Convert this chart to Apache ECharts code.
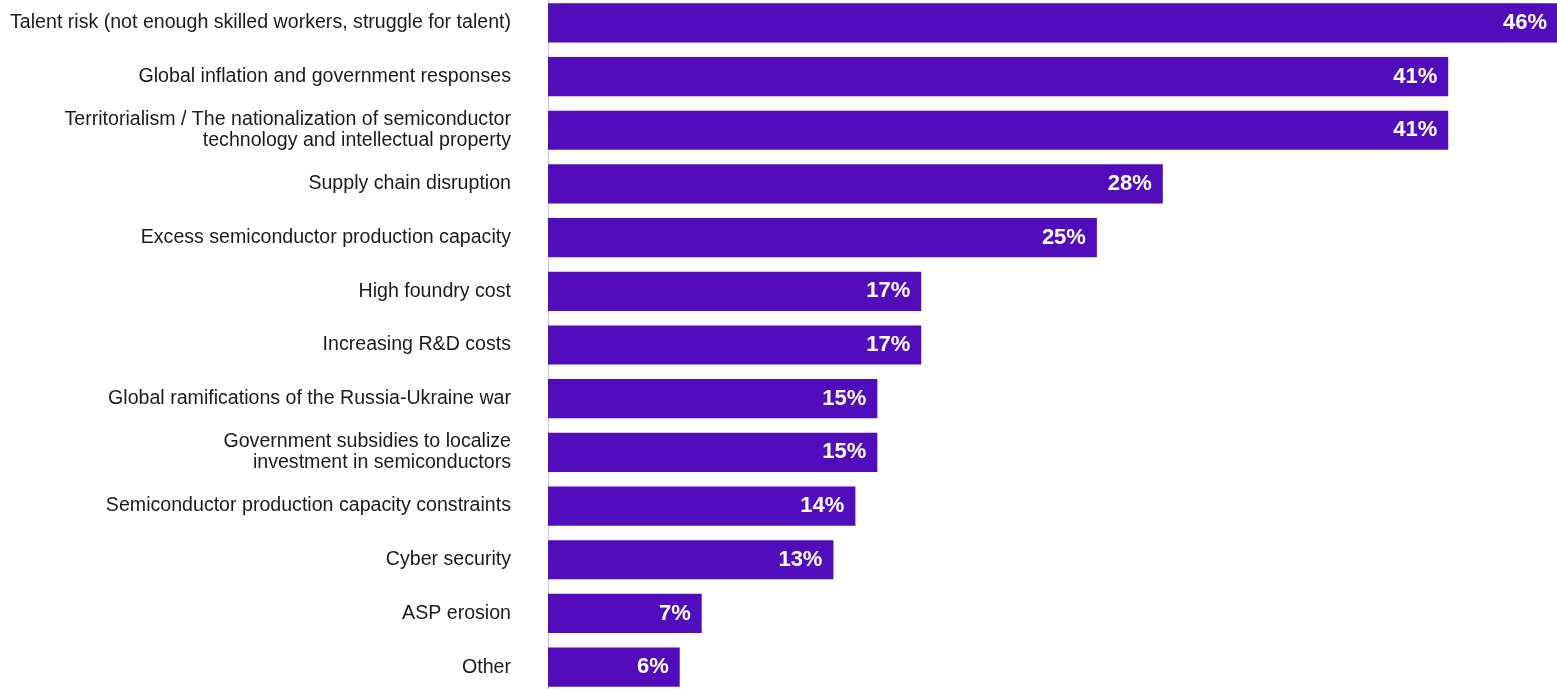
<!DOCTYPE html>
<html>
<head>
<meta charset="utf-8">
<script src="https://cdn.jsdelivr.net/npm/echarts@6/dist/echarts.min.js"></script>
<style>
  html, body { margin: 0; padding: 0; background: #ffffff; }
  #chart { width: 1557px; height: 689px; }
</style>
</head>
<body>
<div id="chart"></div>
<script>
// Risk categories, top to bottom
const categories = [
  'Talent risk (not enough skilled workers, struggle for talent)',
  'Global inflation and government responses',
  'Territorialism / The nationalization of semiconductor\ntechnology and intellectual property',
  'Supply chain disruption',
  'Excess semiconductor production capacity',
  'High foundry cost',
  'Increasing R&D costs',
  'Global ramifications of the Russia-Ukraine war',
  'Government subsidies to localize\ninvestment in semiconductors',
  'Semiconductor production capacity constraints',
  'Cyber security',
  'ASP erosion',
  'Other'
];

// Share of respondents (%)
const values = [46, 41, 41, 28, 25, 17, 17, 15, 15, 14, 13, 7, 6];

const chart = echarts.init(document.getElementById('chart'), null, { renderer: 'canvas' });

chart.setOption({
  animation: false,
  grid: {
    left: 548, top: -4, width: 1010, height: 698,
    containLabel: false,
    outerBoundsMode: 'none'
  },
  xAxis: {
    type: 'value',
    min: 0,
    max: 46,
    show: false
  },
  yAxis: {
    type: 'category',
    inverse: true,
    data: categories,
    axisLine: { show: true, lineStyle: { color: '#cdbdf2', width: 1 } },
    axisTick: { show: false },
    axisLabel: {
      margin: 37,
      color: '#1a1a1a',
      fontFamily: 'Liberation Sans',
      fontSize: 19.6,
      lineHeight: 21,
      align: 'right'
    }
  },
  series: [{
    type: 'bar',
    data: values,
    barCategoryGap: '27%',
    itemStyle: { color: '#510dbc' },
    label: {
      show: true,
      position: 'insideRight',
      distance: 11,
      formatter: '{c}%',
      color: '#ffffff',
      fontFamily: 'Liberation Sans',
      fontWeight: 'bold',
      fontSize: 22
    }
  }]
});
</script>
</body>
</html>
